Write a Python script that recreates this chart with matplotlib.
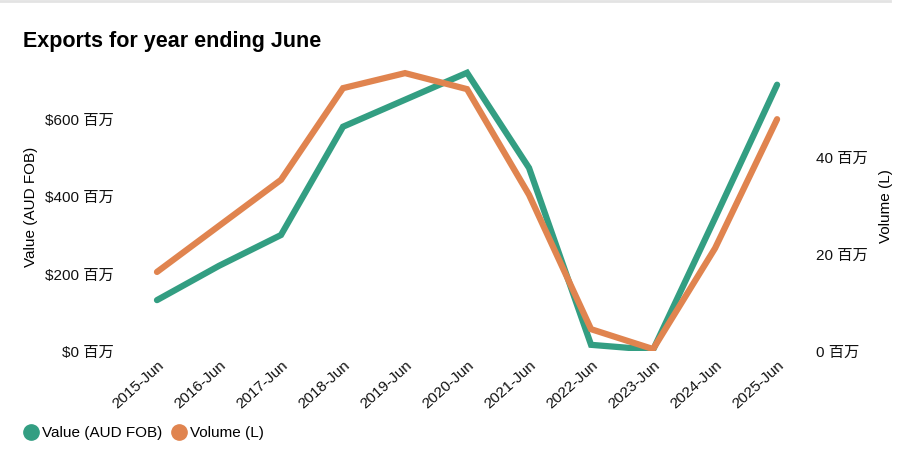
import matplotlib.pyplot as plt
from matplotlib.ticker import FuncFormatter, MultipleLocator
from matplotlib.lines import Line2D

plt.rcParams['font.family'] = ['Liberation Sans', 'Noto Sans CJK SC', 'DejaVu Sans']

years = ["2015-Jun", "2016-Jun", "2017-Jun", "2018-Jun", "2019-Jun", "2020-Jun",
         "2021-Jun", "2022-Jun", "2023-Jun", "2024-Jun", "2025-Jun"]
value_m = [132, 221, 301, 582, 652, 722, 475, 16, 3, 345, 691]
volume_m = [16.3, 25.8, 35.3, 54.2, 57.3, 54.0, 32.2, 4.5, 0.4, 21.2, 47.8]

green = "#339e82"
orange = "#e0844f"

fig = plt.figure(figsize=(9.05, 4.59), dpi=100)
ax = fig.add_axes([130 / 905, 0.2353, 675 / 905, 0.6297])
ax2 = ax.twinx()

x = list(range(len(years)))
ax.plot(x, value_m, color=green, lw=4.5, solid_capstyle="round", solid_joinstyle="miter")
ax2.plot(x, volume_m, color=orange, lw=4.5, solid_capstyle="round", solid_joinstyle="miter")

ax.set_xlim(-0.435, 10.45)
ax.set_ylim(0, 750)
ax2.set_ylim(0, 59.6)
ax.yaxis.set_major_locator(MultipleLocator(200))
ax2.yaxis.set_major_locator(MultipleLocator(20))
ax.yaxis.set_major_formatter(FuncFormatter(lambda v, p: f"${v:.0f} 百万"))
ax2.yaxis.set_major_formatter(FuncFormatter(lambda v, p: f"{v:.0f} 百万"))

ax.set_xticks(x)
ax.set_xticklabels(years, rotation=42, ha="right", rotation_mode="anchor")

for a in (ax, ax2):
    for s in a.spines.values():
        s.set_visible(False)
    a.tick_params(length=0, labelsize=11, colors="#111111")
ax.tick_params(axis="y", pad=12)
ax2.tick_params(axis="y", pad=8)
ax.tick_params(axis="x", pad=5)

ax.set_ylabel("Value (AUD FOB)", fontsize=11)
ax2.set_ylabel("Volume (L)", fontsize=11, labelpad=8)
ax.yaxis.set_label_coords(-0.137, 0.5)

fig.text(23 / 905, 1 - 41 / 459, "Exports for year ending June", fontsize=15.5,
         fontweight="bold", va="center", ha="left")
fig.add_artist(Line2D([0, 890 / 905], [0.997, 0.997], color="#e3e3e3", lw=2))

handles = [Line2D([], [], marker="o", ls="", color=green, markersize=11),
           Line2D([], [], marker="o", ls="", color=orange, markersize=11)]
fig.legend(handles, ["Value (AUD FOB)", "Volume (L)"], loc="center left",
           bbox_to_anchor=(7 / 905, 1 - 433 / 459), ncol=2, frameon=False,
           fontsize=11, handletextpad=0.0, columnspacing=0.4, handlelength=1.4)

fig.savefig("out.png", dpi=100)
